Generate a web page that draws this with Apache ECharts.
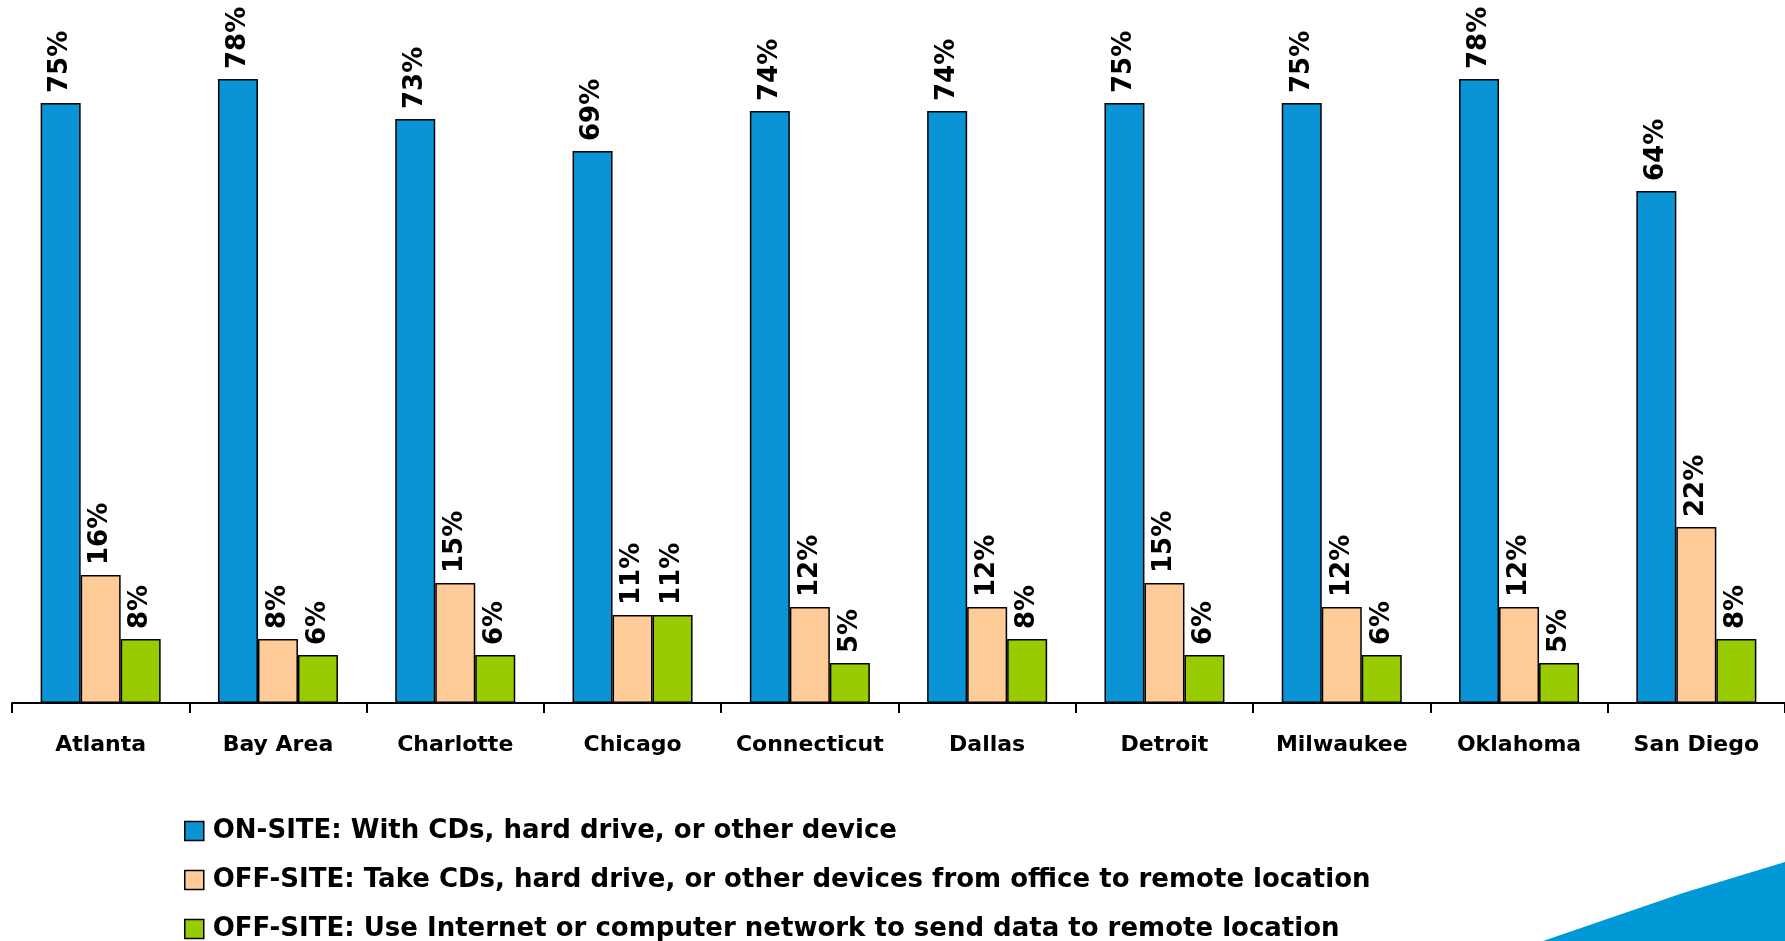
<!DOCTYPE html>
<html>
<head>
<meta charset="utf-8">
<script src="https://cdn.jsdelivr.net/npm/echarts@6/dist/echarts.min.js"></script>
<style>
  html, body { margin: 0; padding: 0; background: #fff; }
  #container { width: 1785px; height: 941px; }
</style>
</head>
<body>
<div id="container"></div>
<script>
// cities along the x axis
const cities = ['Atlanta', 'Bay Area', 'Charlotte', 'Chicago', 'Connecticut',
    'Dallas', 'Detroit', 'Milwaukee', 'Oklahoma', 'San Diego'];

// share of respondents, percent
const onSite = [75, 78, 73, 69, 74, 74, 75, 75, 78, 64];
const offSiteCarry = [16, 8, 15, 11, 12, 12, 15, 12, 12, 22];
const offSiteNetwork = [8, 6, 6, 11, 5, 8, 6, 6, 5, 8];

const seriesNames = [
    'ON-SITE: With CDs, hard drive, or other device',
    'OFF-SITE: Take CDs, hard drive, or other devices from office to remote location',
    'OFF-SITE: Use Internet or computer network to send data to remote location'
];
const colors = ['#0A93D5', '#FFCC99', '#99CC00'];

const dom = document.getElementById('container');
const myChart = echarts.init(dom);

function barSeries(name, data, color) {
    return {
        name: name,
        type: 'bar',
        data: data,
        barWidth: 40,
        barGap: '0%',
        itemStyle: {
            color: color,
            borderColor: '#000',
            borderWidth: 1.5
        },
        label: {
            show: true,
            position: 'top',
            rotate: 90,
            align: 'left',
            verticalAlign: 'middle',
            distance: 10,
            formatter: '{c}%',
            color: '#000',
            fontFamily: 'DejaVu Sans',
            fontWeight: 'bold',
            fontSize: 26
        }
    };
}

// one legend per row, so the rows stay in a single column
const legends = seriesNames.map((name, i) => ({
    orient: 'horizontal',
    left: 179,
    top: 813 + i * 49,
    itemWidth: 19,
    itemHeight: 19,
    icon: 'rect',
    selectedMode: false,
    itemStyle: { borderColor: '#000', borderWidth: 1.5 },
    textStyle: {
        color: '#000',
        fontFamily: 'DejaVu Sans',
        fontWeight: 'bold',
        fontSize: 26,
        padding: [0, 0, 0, 4]
    },
    data: [name]
}));

const option = {
    backgroundColor: '#fff',
    animation: false,
    grid: {
        left: 12,
        top: 23,
        width: 1777,
        bottom: 238
    },
    legend: legends,
    xAxis: {
        type: 'category',
        data: cities,
        axisLine: { lineStyle: { color: '#000', width: 2 } },
        axisTick: { show: true, length: 10, lineStyle: { color: '#000', width: 2 } },
        axisLabel: {
            interval: 0,
            margin: 31,
            color: '#000',
            fontFamily: 'DejaVu Sans',
            fontWeight: 'bold',
            fontSize: 22
        }
    },
    yAxis: {
        type: 'value',
        min: 0,
        max: 85,
        show: false,
        splitLine: { show: false }
    },
    graphic: [{
        type: 'polygon',
        z: -1,
        shape: { points: [[1543, 941], [1610, 918], [1683, 893], [1785, 862], [1785, 941]] },
        style: { fill: '#0099D8' }
    }],
    series: [
        barSeries(seriesNames[0], onSite, colors[0]),
        barSeries(seriesNames[1], offSiteCarry, colors[1]),
        barSeries(seriesNames[2], offSiteNetwork, colors[2])
    ]
};

myChart.setOption(option);
</script>
</body>
</html>
